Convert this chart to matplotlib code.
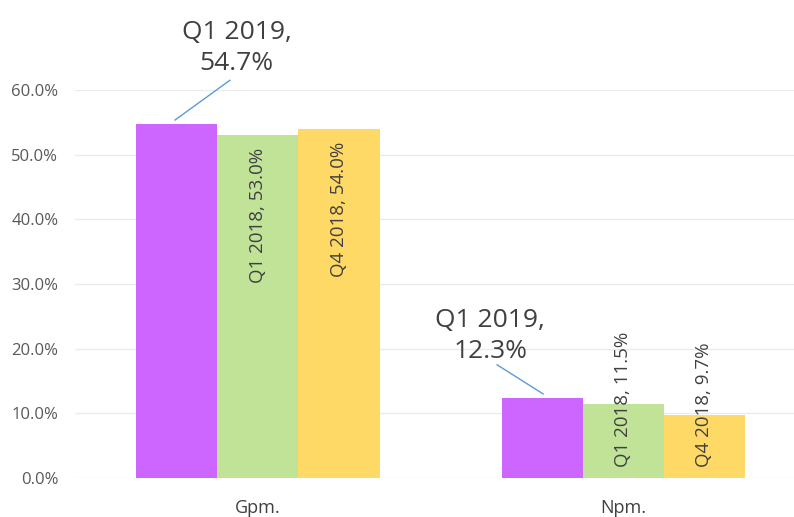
import matplotlib
matplotlib.use("Agg")
import matplotlib.pyplot as plt
import numpy as np

plt.rcParams['font.family'] = ['Open Sans', 'DejaVu Sans']

categories = ["Gpm.", "Npm."]
series_names = ["Q1 2019", "Q1 2018", "Q4 2018"]
q1_2019 = [0.547, 0.123]
q1_2018 = [0.530, 0.115]
q4_2018 = [0.540, 0.097]
colors = ["#CC66FF", "#C1E398", "#FFD966"]
yticks = [0.0, 0.1, 0.2, 0.3, 0.4, 0.5, 0.6]

fig = plt.figure(figsize=(7.94, 5.17), dpi=100)
ax = fig.add_axes([75/794, 39/517, 719/794, 388/517])

x = np.arange(len(categories))
w = 0.222
series = [q1_2019, q1_2018, q4_2018]
offsets = [-w, 0, w]
for vals, off, c in zip(series, offsets, colors):
    ax.bar(x + off, vals, width=w, color=c, edgecolor='none', zorder=2)

ax.set_xlim(-0.501, 1.468)
ax.set_ylim(0, 0.6)
ax.set_yticks(yticks)
ax.set_yticklabels([f"{t*100:.1f}%" for t in yticks], fontsize=12, color='#595959')
ax.set_xticks(x)
ax.set_xticklabels(categories, fontsize=13, color='#404040')
ax.tick_params(axis='both', length=0)
ax.tick_params(axis='y', pad=12)
ax.tick_params(axis='x', pad=15)
ax.grid(axis='y', color='#EBEBEB', linewidth=1, zorder=0)
for s in ax.spines.values():
    s.set_visible(False)

# rotated labels for the 2018 series
txt_len = 0.215
for vals, off, name in zip([q1_2018, q4_2018], [0, w], series_names[1:]):
    for xi, v in zip(x, vals):
        label = f"{name}, {v*100:.1f}%"
        top = v - 0.02
        if top - txt_len < 0.017:
            ax.text(xi + off, 0.017, label, rotation=90, ha='center', va='bottom',
                    fontsize=13.5, color='#404040', zorder=3)
        else:
            ax.text(xi + off, top, label, rotation=90, ha='center', va='top',
                    fontsize=13.5, color='#404040', zorder=3)

# callout labels for Q1 2019
callouts = [(-0.058, 0.665, -0.077, 0.615, -0.227, 0.5536),
            (0.636, 0.2196, 0.655, 0.175, 0.781, 0.130)]
for (tx, ty, lx0, ly0, lx1, ly1), v in zip(callouts, q1_2019):
    ax.text(tx, ty, f"{series_names[0]},\n{v*100:.1f}%", ha='center', va='center',
            fontsize=19, color='#404040', linespacing=1.35, clip_on=False)
    ax.plot([lx0, lx1], [ly0, ly1], color='#5B9BD5', linewidth=1, clip_on=False, zorder=3)

fig.savefig("out.png", dpi=100)
